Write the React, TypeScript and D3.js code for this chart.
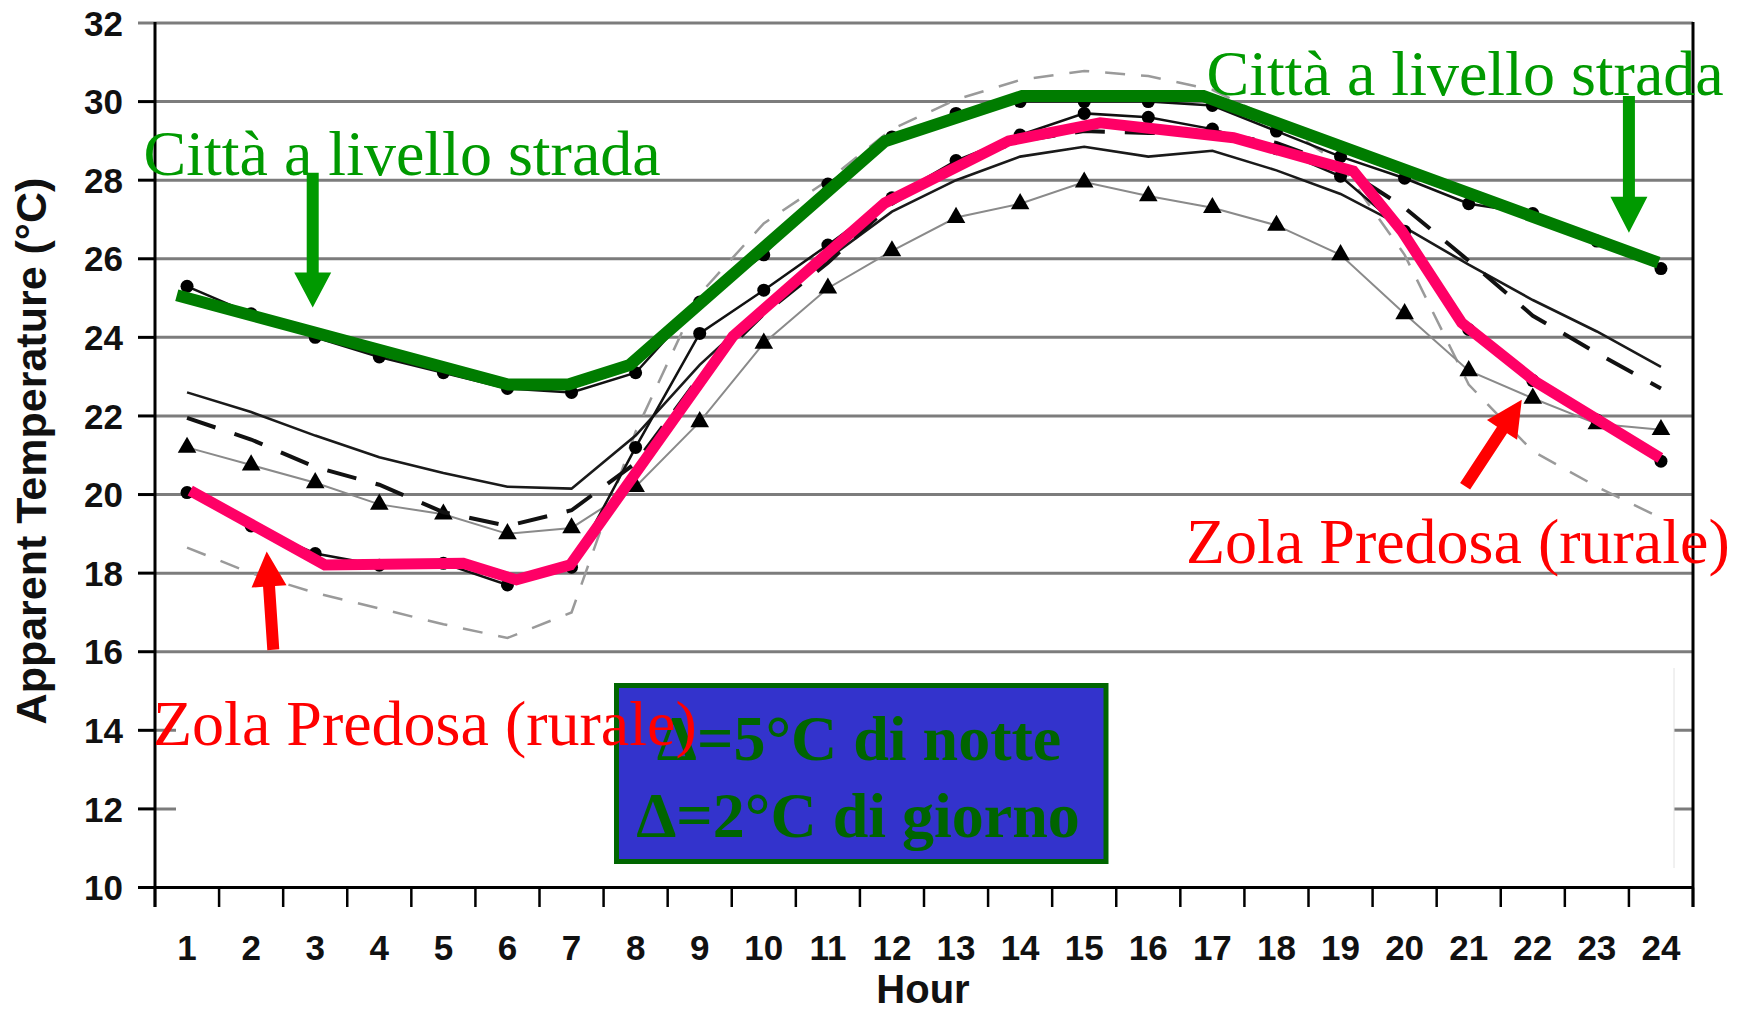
import React from "react";
import * as d3 from "d3";

// ---- data ----
const hours = [1, 2, 3, 4, 5, 6, 7, 8, 9, 10, 11, 12, 13, 14, 15, 16, 17, 18, 19, 20, 21, 22, 23, 24];
const hourLabels = ["1", "2", "3", "4", "5", "6", "7", "8", "9", "10", "11", "12", "13", "14", "15", "16", "17", "18", "19", "20", "21", "22", "23", "24"];
const yTickValues = [10, 12, 14, 16, 18, 20, 22, 24, 26, 28, 30, 32];

// black line with dots (city, street level)
const cityStreet = [25.3, 24.6, 24.0, 23.5, 23.1, 22.7, 22.6, 23.1, 24.9, 26.1, 27.9, 29.1, 29.7, 30.0, 30.0, 30.0, 29.9, 29.25, 28.6, 28.05, 27.4, 27.15, 26.45, 25.75];
// black line with dots (rural)
const rural = [20.05, 19.2, 18.5, 18.2, 18.25, 17.7, 18.15, 21.2, 24.1, 25.2, 26.35, 27.55, 28.5, 29.15, 29.7, 29.6, 29.3, 28.8, 28.1, 26.7, 24.2, 22.9, 21.9, 20.85];
// black solid line, no markers
const solidSeries = [22.6, 22.1, 21.5, 20.95, 20.55, 20.2, 20.15, 21.5, 23.3, 24.8, 26.0, 27.2, 28.0, 28.6, 28.85, 28.6, 28.75, 28.25, 27.65, 26.8, 25.85, 24.95, 24.15, 23.25];
// black long-dashed line
const dashedSeries = [21.95, 21.4, 20.7, 20.25, 19.55, 19.2, 19.6, 20.8, 23.0, 24.6, 25.9, 27.4, 28.4, 29.0, 29.25, 29.2, 29.2, 28.95, 28.35, 27.3, 25.95, 24.55, 23.6, 22.7];
// gray line with triangles
const triangleSeries = [21.2, 20.75, 20.3, 19.75, 19.5, 19.0, 19.15, 20.2, 21.85, 23.85, 25.25, 26.2, 27.05, 27.4, 27.95, 27.6, 27.3, 26.85, 26.1, 24.6, 23.15, 22.45, 21.8, 21.65];
// light gray dashed line
const lightDashedSeries = [18.65, 18.0, 17.5, 17.1, 16.7, 16.35, 17.0, 21.6, 25.1, 26.9, 28.0, 29.3, 30.05, 30.55, 30.78, 30.65, 30.3, 29.5, 28.4, 26.1, 22.8, 21.1, 20.2, 19.4];

// hand-drawn highlight lines (hour, value)
const greenHours = [0.84, 6.01, 6.95, 7.91, 11.89, 14.03, 16.86, 23.96];
const greenValues = [25.07, 22.8, 22.8, 23.3, 28.99, 30.14, 30.14, 25.9];
const pinkHours = [1.05, 3.15, 5.31, 6.14, 6.98, 9.52, 11.89, 13.82, 15.25, 17.33, 19.2, 19.96, 20.89, 22.06, 23.99];
const pinkValues = [20.1, 18.21, 18.25, 17.83, 18.21, 24.03, 27.42, 29.0, 29.46, 29.08, 28.23, 26.7, 24.37, 22.85, 20.93];

// annotation texts
const cityLabel = "Città a livello strada";
const ruralLabel = "Zola Predosa (rurale)";
const boxLines = ["Δ=5°C di notte", "Δ=2°C di giorno"];
const yTitle = "Apparent Temperature (°C)";
const xTitle = "Hour";

const SANS = "'Liberation Sans', Arial, Helvetica, sans-serif";
const SERIF = "'Liberation Serif', 'Times New Roman', Times, serif";

function arrowPoints(x1: number, y1: number, x2: number, y2: number, shaft: number, headW: number, headL: number) {
  const dx = x2 - x1, dy = y2 - y1;
  const len = Math.hypot(dx, dy);
  const ux = dx / len, uy = dy / len;
  const nx = -uy, ny = ux;
  const bx = x2 - ux * headL, by = y2 - uy * headL;
  const pts = [
    [x1 + (nx * shaft) / 2, y1 + (ny * shaft) / 2],
    [bx + (nx * shaft) / 2, by + (ny * shaft) / 2],
    [bx + (nx * headW) / 2, by + (ny * headW) / 2],
    [x2, y2],
    [bx - (nx * headW) / 2, by - (ny * headW) / 2],
    [bx - (nx * shaft) / 2, by - (ny * shaft) / 2],
    [x1 - (nx * shaft) / 2, y1 - (ny * shaft) / 2],
  ];
  return pts.map((p) => p.join(",")).join(" ");
}

export default function App() {
  const W = 1744, H = 1014;
  const left = 155, right = 1693, top = 23, bottom = 887.5;
  const x = d3.scaleLinear().domain([0.5, 24.5]).range([left, right]);
  const y = d3.scaleLinear().domain([10, 32]).range([bottom, top]);

  const seriesLine = d3.line<number>().x((_, i) => x(hours[i])).y((d) => y(d));
  const overlayLine = (hs: number[], vs: number[]) =>
    d3.line<number>().x((_, i) => x(hs[i])).y((d) => y(d))(vs) || "";
  const triPath = d3.symbol().type(d3.symbolTriangle).size(150)() || "";

  const green = "#007c00";
  const greenText = "#009a00";
  const pink = "#ff0066";
  const red = "#ff0000";

  const arrows = [
    { from: [2.961, 28.19], to: [2.961, 24.76], color: greenText, headW: 37, headL: 35 },
    { from: [23.5, 30.14], to: [23.5, 26.66], color: greenText, headW: 37, headL: 36 },
    { from: [2.346, 16.05], to: [2.243, 18.55], color: red, headW: 35, headL: 35 },
    { from: [20.944, 20.21], to: [21.828, 22.41], color: red, headW: 36, headL: 36 },
  ];

  const bandEdges = d3.range(0, 25).map((k) => k + 0.5);

  return (
    <svg
      width={W}
      height={H}
      viewBox={`0 0 ${W} ${H}`}
      style={{ position: "absolute", left: 0, top: 0, background: "#fff", display: "block" }}
    >
      <rect x={0} y={0} width={W} height={H} fill="#fff" />

      {/* horizontal gridlines */}
      {yTickValues
        .filter((v) => v > 10)
        .map((v) => (
          <line key={"g" + v} x1={left} x2={right} y1={y(v)} y2={y(v)} stroke="#7c7c7c" strokeWidth={3} />
        ))}

      {/* white patch hiding low gridlines */}
      <rect x={176} y={668} width={1674 - 176} height={200} fill="#fff" />
      <line x1={1674} x2={1674} y1={668} y2={868} stroke="#e2e2e2" strokeWidth={1} />

      {/* y ticks */}
      {yTickValues.map((v) => (
        <line key={"yt" + v} x1={138} x2={left} y1={y(v)} y2={y(v)} stroke={v === 32 ? "#7c7c7c" : "#000"} strokeWidth={3} />
      ))}
      {/* x ticks */}
      {bandEdges.map((e) => (
        <line key={"xt" + e} x1={x(e)} x2={x(e)} y1={bottom} y2={907} stroke="#000" strokeWidth={2.5} />
      ))}

      {/* axes */}
      <line x1={left} x2={left} y1={top - 1} y2={907} stroke="#000" strokeWidth={3} />
      <line x1={right} x2={right} y1={top - 1} y2={907} stroke="#000" strokeWidth={3} />
      <line x1={left} x2={right} y1={bottom} y2={bottom} stroke="#000" strokeWidth={3} />

      {/* y tick labels */}
      {yTickValues.map((v) => (
        <text
          key={"yl" + v}
          x={123}
          y={y(v)}
          dy="0.36em"
          textAnchor="end"
          fontFamily={SANS}
          fontWeight="bold"
          fontSize={35}
          fill="#111"
        >
          {v}
        </text>
      ))}
      {/* x tick labels */}
      {hours.map((h, i) => (
        <text
          key={"xl" + h}
          x={x(h)}
          y={960}
          textAnchor="middle"
          fontFamily={SANS}
          fontWeight="bold"
          fontSize={35}
          fill="#111"
        >
          {hourLabels[i]}
        </text>
      ))}
      <text x={923} y={1003} textAnchor="middle" fontFamily={SANS} fontWeight="bold" fontSize={40} fill="#111">
        {xTitle}
      </text>
      <text
        transform={`translate(46, 451) rotate(-90)`}
        textAnchor="middle"
        fontFamily={SANS}
        fontWeight="bold"
        fontSize={43}
        fill="#111"
      >
        {yTitle}
      </text>

      {/* data series */}
      <path d={seriesLine(lightDashedSeries) || ""} fill="none" stroke="#9a9a9a" strokeWidth={2.5} strokeDasharray="20 16" />
      <path d={seriesLine(triangleSeries) || ""} fill="none" stroke="#8a8a8a" strokeWidth={2} />
      {triangleSeries.map((v, i) => (
        <path key={"tr" + i} d={triPath} transform={`translate(${x(hours[i])},${y(v)})`} fill="#000" />
      ))}
      <path d={seriesLine(solidSeries) || ""} fill="none" stroke="#1a1a1a" strokeWidth={2.6} />
      <path d={seriesLine(dashedSeries) || ""} fill="none" stroke="#111" strokeWidth={4} strokeDasharray="30 20" />
      <path d={seriesLine(rural) || ""} fill="none" stroke="#111" strokeWidth={2.5} />
      {rural.map((v, i) => (
        <circle key={"ru" + i} cx={x(hours[i])} cy={y(v)} r={6.5} fill="#000" />
      ))}
      <path d={seriesLine(cityStreet) || ""} fill="none" stroke="#111" strokeWidth={2.5} />
      {cityStreet.map((v, i) => (
        <circle key={"cs" + i} cx={x(hours[i])} cy={y(v)} r={6.5} fill="#000" />
      ))}

      {/* highlight overlays */}
      <path d={overlayLine(greenHours, greenValues)} fill="none" stroke={green} strokeWidth={12} strokeLinejoin="miter" />
      <path d={overlayLine(pinkHours, pinkValues)} fill="none" stroke={pink} strokeWidth={11} strokeLinejoin="miter" />

      {/* arrows */}
      {arrows.map((a, i) => (
        <polygon
          key={"ar" + i}
          points={arrowPoints(x(a.from[0]), y(a.from[1]), x(a.to[0]), y(a.to[1]), 12, a.headW, a.headL)}
          fill={a.color}
        />
      ))}

      {/* green labels */}
      <text x={143.5} y={175} fontFamily={SERIF} fontSize={64} fill={greenText}>
        {cityLabel}
      </text>
      <text x={1206.5} y={95} fontFamily={SERIF} fontSize={64} fill={greenText}>
        {cityLabel}
      </text>

      {/* delta box */}
      <rect x={616.5} y={685.5} width={489.5} height={176} fill="#3333cc" stroke="#006600" strokeWidth={5} />
      <text x={859} y={760} textAnchor="middle" fontFamily={SERIF} fontWeight="bold" fontSize={64} fill="#006400">
        {boxLines[0]}
      </text>
      <text x={858} y={837} textAnchor="middle" fontFamily={SERIF} fontWeight="bold" fontSize={64} fill="#006400">
        {boxLines[1]}
      </text>

      {/* red labels */}
      <text x={153} y={745} fontFamily={SERIF} fontSize={64} fill={red}>
        {ruralLabel}
      </text>
      <text x={1186} y={563} fontFamily={SERIF} fontSize={64} fill={red}>
        {ruralLabel}
      </text>
    </svg>
  );
}
